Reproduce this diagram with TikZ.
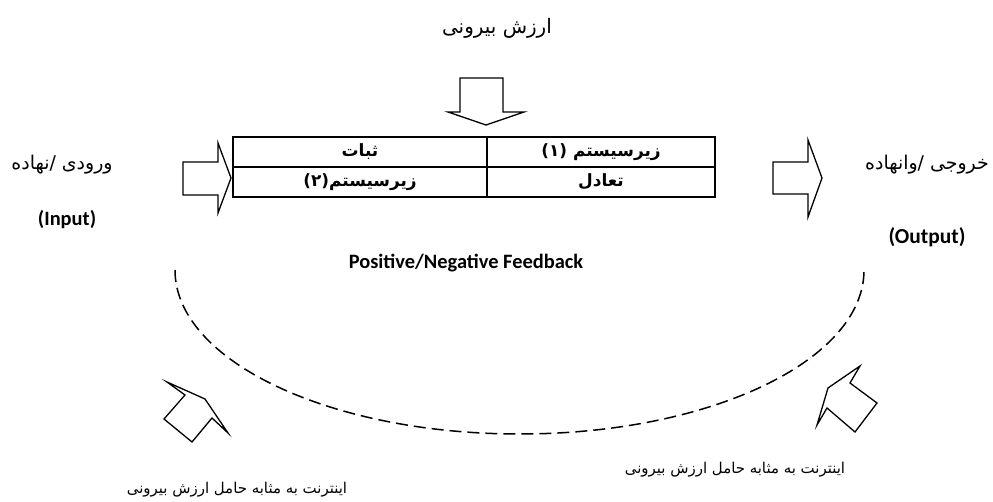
\documentclass[tikz,border=0pt]{standalone}
\usepackage{fontspec}
\setmainfont{Liberation Serif}
\newfontfamily\arabicfont[Script=Arabic]{DejaVu Sans}
\newfontfamily\labelfont{Carlito}
\TeXXeTstate=1
\usetikzlibrary{positioning}
\newcommand{\fatxt}[1]{\arabicfont\beginR #1\endR}
\tikzset{
  blockarrow/.style={draw=black, line width=1.3bp, line join=miter, fill=white},
  fatext/.style={font=\fontsize{19}{22}\selectfont, inner sep=0pt},
  cell/.style={draw=black, line width=1.8bp, minimum height=30bp, inner sep=0pt,
    font=\fontsize{17}{20}\selectfont\bfseries},
  entext/.style={font=\labelfont\bfseries\fontsize{20.5}{24}\selectfont, inner sep=0pt},
}

\begin{document}
\begin{tikzpicture}[x=1bp, y=-1bp]
  \useasboundingbox (0,0) rectangle (993,502);
  % the system table
  \node[cell, minimum width=254bp] (stab) at (360,152) {\fatxt{ثبات}};
  \node[cell, minimum width=228bp] (sub1) at (601,152) {\fatxt{زیرسیستم (۱)}};
  \node[cell, minimum width=254bp] (sub2) at (360,182) {\fatxt{زیرسیستم(۲)}};
  \node[cell, minimum width=228bp] (equi) at (601,182) {\fatxt{تعادل}};
  % outer value from above
  \node[fatext, font=\fontsize{20}{24}\selectfont] (outer) at (497,28) {\fatxt{ارزش بیرونی}};
  \draw[blockarrow] (460,78) -- (503,78) -- (503,112) -- (524,112) -- (486,125)
    -- (448,112) -- (460,112) -- cycle;
  % input and output
  \draw[blockarrow] (183,162) -- (218,162) -- (218,143) -- (231,178) -- (218,213)
    -- (218,195) -- (183,195) -- cycle;
  \draw[blockarrow] (773,162) -- (808,162) -- (808,140) -- (822,178) -- (808,217)
    -- (808,194) -- (773,194) -- cycle;
  \node[fatext] (inFa) at (62,165) {\fatxt{ورودی /نهاده}};
  \node[entext] (inEn) at (67,220) {(Input)};
  \node[fatext] (outFa) at (927,165) {\fatxt{خروجی /وانهاده}};
  \node[entext, font=\labelfont\bfseries\fontsize{21.5}{24}\selectfont] (outEn) at (927,237) {(Output)};
  % feedback loop
  \node[entext] (fb) at (466,263) {Positive/Negative Feedback};
  \draw[line width=1.5bp, dash pattern=on 12bp off 6bp] (175,270)
    arc[start angle=180, end angle=360, x radius=344.5bp, y radius=164bp];
  % internet as carrier of outer value
  \draw[blockarrow] (167,382) -- (205,399) -- (228,433) -- (212,418) -- (192,442)
    -- (164,419) -- (185,395) -- cycle;
  \draw[blockarrow] (860,366) -- (828,388) -- (817,425) -- (827,408) -- (855,432)
    -- (877,403) -- (850,383) -- cycle;
  \node[fatext, font=\fontsize{15}{18}\selectfont] (netL) at (237,490)
    {\fatxt{اینترنت به مثابه حامل ارزش بیرونی}};
  \node[fatext, font=\fontsize{15}{18}\selectfont] (netR) at (735,470)
    {\fatxt{اینترنت به مثابه حامل ارزش بیرونی}};
\end{tikzpicture}
\end{document}
